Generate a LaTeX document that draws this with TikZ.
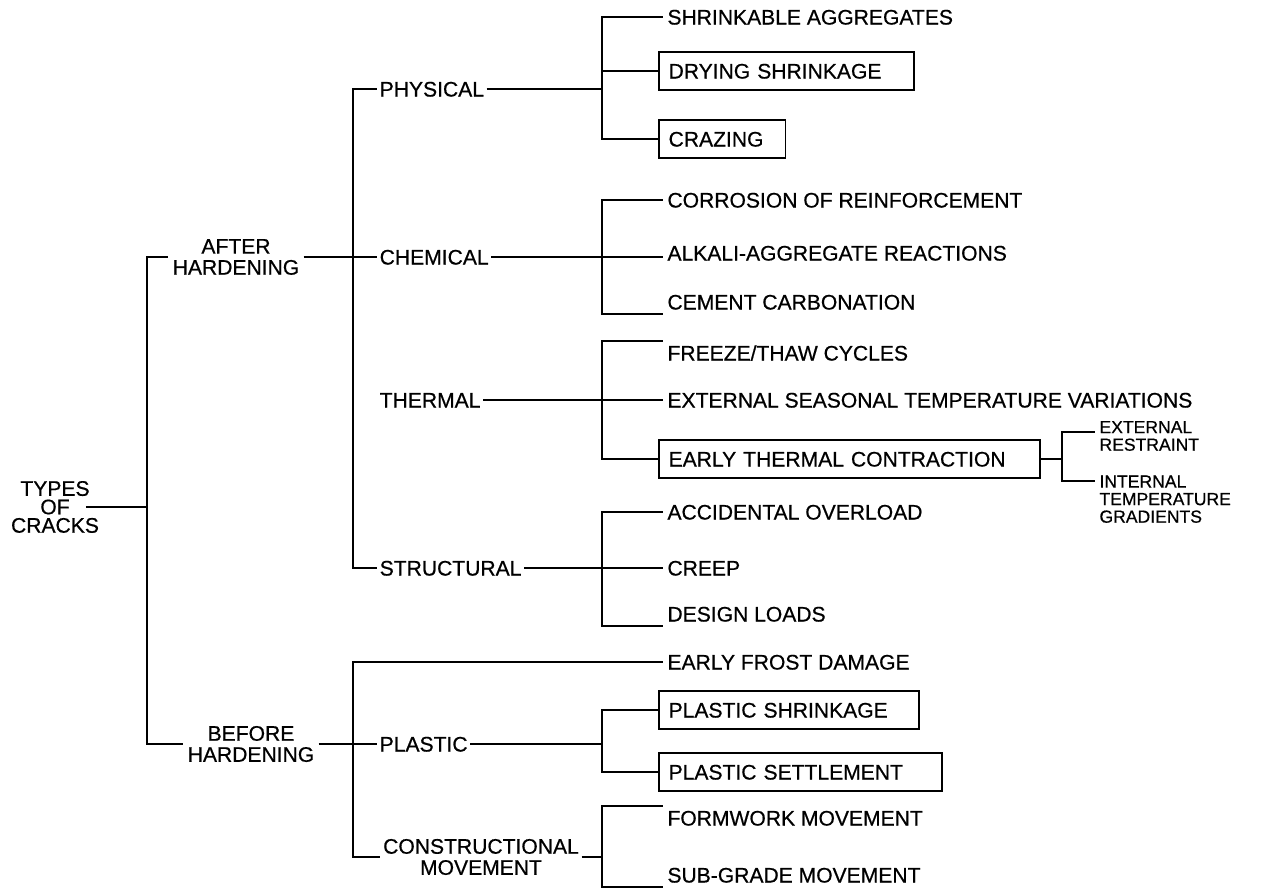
\documentclass[tikz,border=0pt]{standalone}
\usepackage{fontspec}
\setmainfont{Liberation Sans}[FakeBold=0.6]
\usetikzlibrary{calc, positioning}
\tikzset{
  lbl/.style={inner sep=2pt, text height=8.6pt, text depth=0pt},
  leaf/.style={lbl, anchor=west},
  midlbl/.style={leaf, inner xsep=1pt},
  leafbox/.style={leaf, draw, inner xsep=5.5pt, minimum height=22pt, align=left},
  grp/.style={inner sep=2pt, align=center},
  subleaf/.style={inner sep=2pt, align=left, font=\fontsize{10}{10}\selectfont},
}

\begin{document}
\begin{tikzpicture}[x=0.02cm, y=-0.02cm, line width=1.1pt, every node/.style={font=\fontsize{12}{12}\selectfont}]
  \useasboundingbox (0,0) rectangle (1278,888);
  \node[grp, font=\fontsize{12}{10.5}\selectfont] (root) at (55,507) {TYPES\\OF\\CRACKS};
  \node[grp] (after) at (236,257) {AFTER\\HARDENING};
  \node[grp] (before) at (251,744) {BEFORE\\HARDENING};
  \coordinate (j0) at (147,507);
  \draw ([xshift=-10pt]root.east) -- (j0);
  \draw (j0) |- (after.west);
  \draw (j0) |- (before.west);
  % after hardening
  \node[midlbl] (phys) at (377,89) {PHYSICAL};
  \node[midlbl] (chem) at (377,257) {CHEMICAL};
  \node[midlbl] (therm) at (377,400) {THERMAL};
  \node[midlbl] (struct) at (377,568) {STRUCTURAL};
  \coordinate (j1) at (353,257);
  \draw (after.east) -- (j1) -- (chem.west);
  \draw (j1) |- (phys.west);
  \draw (j1) |- (struct.west);
  \coordinate (jp) at (602,89);
  \node[leaf] (shragg) at (663,17) {SHRINKABLE AGGREGATES};
  \node[leafbox, text width=134pt] (dry) at (658,71) {DRYING SHRINKAGE};
  \node[leafbox, text width=61pt] (craz) at (658,139) {CRAZING};
  \draw (phys.east) -- (jp);
  \draw (jp) |- (shragg.west);
  \draw (jp) |- (dry.west);
  \draw (jp) |- (craz.west);
  \coordinate (jc) at (602,257);
  \node[leaf] (corr) at (663,200) {CORROSION OF REINFORCEMENT};
  \node[leaf] (alk) at (663,253) {ALKALI-AGGREGATE REACTIONS};
  \node[leaf] (carb) at (663,302) {CEMENT CARBONATION};
  \draw (chem.east) -- (jc) -- (jc -| alk.west);
  \draw (jc) |- (corr.west);
  \draw (jc) |- (carb.south west);
  \coordinate (jt) at (602,400);
  \node[leaf] (frz) at (663,353) {FREEZE/THAW CYCLES};
  \node[leaf] (ext) at (663,400) {EXTERNAL SEASONAL TEMPERATURE VARIATIONS};
  \node[leafbox, text width=206pt] (etc) at (658,459) {EARLY THERMAL CONTRACTION};
  \draw (therm.east) -- (jt) -- (ext.west);
  \draw (jt) |- (frz.north west);
  \draw (jt) |- (etc.west);
  \coordinate (je) at (1062,459);
  \node[subleaf, anchor=west] (extr) at (1095,436) {EXTERNAL\\RESTRAINT};
  \node[subleaf, anchor=north west] (intg) at (1095,471) {INTERNAL\\TEMPERATURE\\GRADIENTS};
  \draw (etc.east) -- (je);
  \draw (je) |- ($(extr.west)+(0,-4)$);
  \draw (je) |- ($(intg.north west)+(0,10)$);
  \coordinate (js) at (602,568);
  \node[leaf] (acc) at (663,512) {ACCIDENTAL OVERLOAD};
  \node[leaf] (creep) at (663,568) {CREEP};
  \node[leaf] (dsgn) at (663,614) {DESIGN LOADS};
  \draw (struct.east) -- (js) -- (creep.west);
  \draw (js) |- (acc.west);
  \draw (js) |- (dsgn.south west);
  % before hardening
  \node[leaf] (frost) at (663,662) {EARLY FROST DAMAGE};
  \node[midlbl] (plast) at (377,744) {PLASTIC};
  \node[grp, inner xsep=1pt] (constr) at (481,857) {CONSTRUCTIONAL\\MOVEMENT};
  \coordinate (j2) at (353,744);
  \draw (before.east) -- (j2) -- (plast.west);
  \draw (j2) |- (frost.west);
  \draw (j2) |- (constr.west);
  \coordinate (jpl) at (602,744);
  \node[leafbox, text width=137pt] (pshr) at (658,710) {PLASTIC SHRINKAGE};
  \node[leafbox, text width=150pt] (pset) at (658,772) {PLASTIC SETTLEMENT};
  \draw (plast.east) -- (jpl);
  \draw (jpl) |- (pshr.west);
  \draw (jpl) |- (pset.west);
  \coordinate (jcm) at (602,857);
  \node[leaf] (form) at (663,818) {FORMWORK MOVEMENT};
  \node[leaf] (subg) at (663,875) {SUB-GRADE MOVEMENT};
  \draw (constr.east) -- (jcm);
  \draw (jcm) |- (form.north west);
  \draw (jcm) |- (subg.south west);
\end{tikzpicture}
\end{document}
